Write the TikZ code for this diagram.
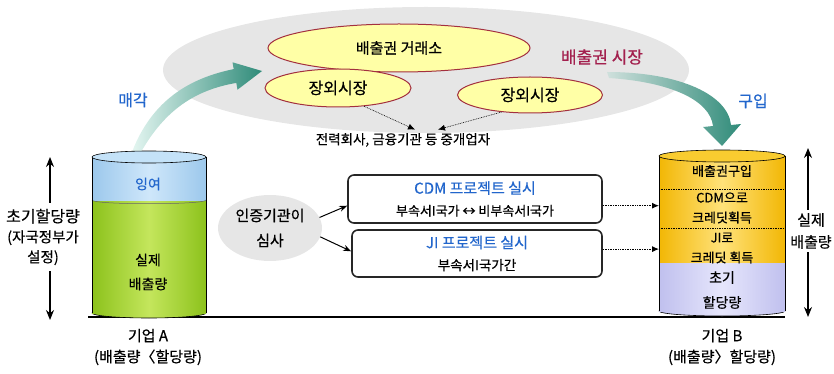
\documentclass[tikz,border=0pt]{standalone}
\usepackage{fontspec}
\setmainfont{Noto Sans CJK KR}[FakeBold=0.5]
\usetikzlibrary{shapes.geometric,arrows.meta}

\definecolor{mktgray}{HTML}{E6E6E6}
\definecolor{ovalfill}{HTML}{FFFFA6}
\definecolor{ovalline}{HTML}{A3303F}
\definecolor{labelblue}{HTML}{2266CC}
\definecolor{mktred}{HTML}{A3204E}
\definecolor{tealdark}{HTML}{2F8B79}
\definecolor{teallight}{HTML}{E4F6F1}
\definecolor{tealgray}{HTML}{CFE0DC}
\definecolor{grnside}{HTML}{8CC21C}
\definecolor{grnmid}{HTML}{C4E65C}
\definecolor{bluside}{HTML}{9CC8EC}
\definecolor{blumid}{HTML}{CFE7FA}
\definecolor{blutop}{HTML}{C4E2F8}
\definecolor{orgside}{HTML}{F2B705}
\definecolor{orgmid}{HTML}{FFE27A}
\definecolor{orgtop}{HTML}{F9CC30}
\definecolor{lavside}{HTML}{C0C0EE}
\definecolor{lavmid}{HTML}{E6E6FC}

\newcommand{\ksize}[2]{\fontsize{#1}{#2}\selectfont}

\tikzset{
    oval/.style={ellipse, draw=ovalline, line width=1pt, fill=ovalfill, inner sep=0pt},
    project/.style={draw=black!85, line width=1.6pt, rounded corners=6pt, fill=white, align=center, inner sep=0pt},
    dimarrow/.style={line width=1.2pt, -{Stealth[length=10pt,width=8pt]}},
    dotarrow/.style={dash pattern=on 0.8pt off 0.9pt, line width=0.9pt, -{Latex[length=7pt,width=6pt]}},
}

\begin{document}
\begin{tikzpicture}[x=1pt, y=-1pt, >={Stealth[length=8pt,width=6pt]}]
    \useasboundingbox (0,0) rectangle (834,374);

    % market
    \fill[mktgray] (426,70) ellipse [x radius=263pt, y radius=63pt];
    \node[oval, minimum width=262pt, minimum height=48pt, font=\ksize{15}{18}] (exch) at (399,48) {배출권 거래소};
    \node[oval, minimum width=146pt, minimum height=38pt, font=\ksize{16}{18}] (otcl) at (338,88) {장외시장};
    \node[oval, minimum width=145pt, minimum height=36pt, font=\ksize{16}{18}] (otcr) at (530,95) {장외시장};
    \node[font=\ksize{13.5}{16}] (broker) at (403,140) {전력회사, 금융기관 등 중개업자};
    \draw[dotarrow, line width=0.6pt] (otcl.325) -- ([xshift=12pt]broker.north);
    \draw[dotarrow, line width=0.6pt] (otcr.211) -- ([xshift=35pt]broker.north);
    \node[text=mktred, font=\ksize{17}{20}] (mkt) at (602,57) {배출권 시장};

    % sell and buy arrows
    \shade[left color=teallight, right color=tealdark] (132,152) .. controls (152,100) and (190,78) .. (233.7,69.1)
        -- (232.5,62.3) -- (262,71) -- (237.5,89.7) -- (236.3,82.9)
        .. controls (195,90) and (165,110) .. (141,152) -- cycle;
    \node[text=labelblue, font=\ksize{16}{18}] (sell) at (133,100) {매각};
    \shade[left color=tealgray, right color=tealdark] (607,72) .. controls (680,72) and (728,95) .. (731,125)
        -- (741,124) -- (722,146) -- (703,127) -- (713,126)
        .. controls (710,100) and (670,82) .. (609,78) -- cycle;
    \node[text=labelblue, font=\ksize{16}{18}] (buy) at (753,101) {구입};

    % ground line
    \draw[line width=1.2pt] (88,317) -- (785,317);

    % company A tank
    \shade[left color=grnside, right color=grnside, middle color=grnmid] (149,313) ellipse [x radius=57pt, y radius=5pt];
    \draw[line width=0.6pt] (149,313) ellipse [x radius=57pt, y radius=5pt];
    \shade[left color=grnside, right color=grnside, middle color=grnmid] (92,200) rectangle (206,313);
    \shade[left color=bluside, right color=bluside, middle color=blumid] (92,157) rectangle (206,200);
    \draw[line width=0.5pt, black!60] (92,200) .. controls (92,205) and (206,205) .. (206,200);
    \draw[line width=0.6pt] (92,157) -- (92,313) (206,157) -- (206,313);
    \filldraw[fill=blutop, line width=0.6pt] (149,157) ellipse [x radius=57pt, y radius=6pt];
    \node[text=labelblue, font=\ksize{14}{18}] (surplus) at (148,184) {잉여};
    \node[align=center, font=\ksize{14}{24}] (emitA) at (148,272) {실제\\배출량};
    \node[align=center, font=\ksize{15}{21}] (firmA) at (148,347) {기업 A\\(배출량〈할당량)};

    % company B tank
    \shade[left color=lavside, right color=lavside, middle color=lavmid] (722,311) ellipse [x radius=63pt, y radius=5pt];
    \draw[line width=0.6pt] (722,311) ellipse [x radius=63pt, y radius=5pt];
    \shade[left color=lavside, right color=lavside, middle color=lavmid] (659,262) rectangle (785,311);
    \shade[left color=orgside, right color=orgside, middle color=orgmid] (659,156) rectangle (785,262);
    \draw[dash pattern=on 0.8pt off 0.9pt, line width=0.8pt] (659,189) -- (785,189) (659,228) -- (785,228);
    \draw[line width=0.6pt] (659,156) -- (659,311) (785,156) -- (785,311);
    \filldraw[fill=orgtop, line width=0.6pt] (722,156) ellipse [x radius=63pt, y radius=6pt];
    \node[font=\ksize{13}{20}] (buyin) at (722,171) {배출권구입};
    \node[align=center, font=\ksize{13}{20}] (cdmcr) at (722,208) {CDM으로\\크레딧획득};
    \node[align=center, font=\ksize{13}{20}] (jicr) at (722,248) {JI로\\크레딧 획득};
    \node[align=center, font=\ksize{14}{25}] (initB) at (722,290) {초기\\할당량};
    \node[align=center, font=\ksize{15}{21}] (firmB) at (722,347) {기업 B\\(배출량〉할당량)};
    \coordinate (tankB) at (659,0);

    % projects
    \node[ellipse, fill=mktgray, minimum width=104pt, minimum height=66pt, inner sep=0pt,
        align=center, font=\ksize{15}{25}] (cert) at (270,228) {인증기관이\\심사};
    \node[project, minimum width=254pt, minimum height=48pt, font=\ksize{13}{22}] (cdm) at (475,199)
        {{\color{labelblue}\ksize{15}{22}CDM 프로젝트 실시}\\부속서I국가 ↔ 비부속서I국가};
    \node[project, minimum width=250pt, minimum height=47pt, font=\ksize{13.5}{22}] (ji) at (477,253.5)
        {{\color{labelblue}\ksize{15}{22}JI 프로젝트 실시}\\부속서I국가간};
    \draw[->, line width=1pt] (cert.12) -- (cdm.183);
    \draw[->, line width=1pt] (cert.350) -- (ji.179);
    \draw[dotarrow] (cdm.357) -- (cdm.357 -| tankB);
    \draw[dotarrow] (ji.2) -- (ji.2 -| tankB);

    % allocation and emission spans
    \coordinate (atop) at (50,157);
    \coordinate (abot) at (50,320);
    \node[align=center, inner ysep=6pt, font=\ksize{14.5}{20}] (alloc) at (43,237)
        {{\ksize{16}{20}초기할당량}\\(자국정부가\\설정)};
    \draw[dimarrow] (alloc.north -| atop) -- (atop);
    \draw[dimarrow] (alloc.south -| atop) -- (abot);
    \coordinate (btop) at (808,148);
    \coordinate (bbot) at (808,317);
    \node[align=center, font=\ksize{15}{22}] (actual) at (811,231) {실제\\배출량};
    \draw[dimarrow] (actual.north -| btop) -- (btop);
    \draw[dimarrow] (actual.south -| btop) -- (bbot);
\end{tikzpicture}
\end{document}
